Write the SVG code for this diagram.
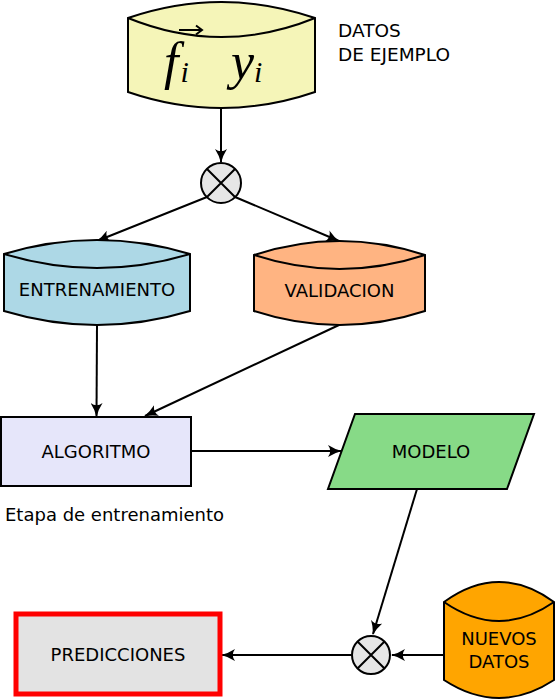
<svg xmlns="http://www.w3.org/2000/svg" width="556" height="700" viewBox="0 0 556 700">
<style>
.s{stroke:#000;stroke-width:2}
.t{font-family:"DejaVu Sans",sans-serif;font-size:18px;fill:#000;text-anchor:middle}
.c{stroke:#000;stroke-width:2;fill:none}
.m{font-family:"Liberation Serif",serif;font-style:italic;fill:#000}
</style>
<defs>
<marker id="ah" viewBox="0 0 14 12" refX="13" refY="6" markerWidth="14" markerHeight="12" markerUnits="userSpaceOnUse" orient="auto">
<path d="M0,0 Q7,4.5 14,6 Q7,7.5 0,12 Q4.5,6 0,0 Z" fill="#000"/>
</marker>
</defs>
<rect width="556" height="700" fill="#fff"/>
<g id="connectors" class="c">
<line x1="221" y1="108" x2="221" y2="162" marker-end="url(#ah)"/>
<line x1="207" y1="197" x2="97" y2="241" marker-end="url(#ah)"/>
<line x1="235" y1="197" x2="339" y2="241" marker-end="url(#ah)"/>
<line x1="97" y1="325" x2="96.5" y2="416" marker-end="url(#ah)"/>
<line x1="339" y1="325" x2="145" y2="416" marker-end="url(#ah)"/>
<line x1="191" y1="451" x2="341" y2="451" marker-end="url(#ah)"/>
<line x1="417" y1="489" x2="373" y2="634" marker-end="url(#ah)"/>
<line x1="444" y1="655" x2="392" y2="655" marker-end="url(#ah)"/>
<line x1="352" y1="655" x2="222" y2="655" marker-end="url(#ah)"/>
</g>
<g id="datos">
<path class="s" fill="#f5f5b8" d="M128,18 Q221.5,-14 315,18 L315,92 Q221.5,124 128,92 Z"/>
<path class="c" d="M128,18 Q221.5,56 315,18"/>
<text class="m" x="164" y="79" font-size="52">f<tspan font-size="30" dx="2" dy="3">i</tspan></text>
<text class="m" x="231" y="79" font-size="52">y<tspan font-size="30" dy="3">i</tspan></text>
<path class="c" stroke-width="1.6" d="M179,30 L202,30 M196,25.5 L202,30 L196,34.5"/>
<text x="338" y="37" font-family="DejaVu Sans,sans-serif" font-size="18.5">DATOS</text>
<text x="338" y="61" font-family="DejaVu Sans,sans-serif" font-size="18.5">DE EJEMPLO</text>
</g>
<g id="mix1">
<circle class="s" cx="221" cy="183" r="20" fill="#e6e6e6"/>
<path class="c" d="M207,169 L235,197 M235,169 L207,197"/>
</g>
<g id="entrenamiento">
<path class="s" fill="#add8e6" d="M4,254 Q97,226 190,254 L190,311 Q97,339 4,311 Z"/>
<path class="c" d="M4,254 Q97,282 190,254"/>
<text class="t" x="97" y="296">ENTRENAMIENTO</text>
</g>
<g id="validacion">
<path class="s" fill="#ffb482" d="M254,255 Q339.5,227 425,255 L425,311 Q339.5,339 254,311 Z"/>
<path class="c" d="M254,255 Q339.5,283 425,255"/>
<text class="t" x="339.5" y="297">VALIDACION</text>
</g>
<g id="algoritmo">
<rect class="s" x="1" y="417" width="190" height="69" fill="#e6e6fa"/>
<text class="t" x="96" y="458">ALGORITMO</text>
</g>
<g id="modelo">
<path class="s" fill="#87da87" d="M355,414 L534,414 L507,489 L328,489 Z"/>
<text class="t" x="431" y="458">MODELO</text>
</g>
<text x="5" y="521" font-family="DejaVu Sans,sans-serif" font-size="18">Etapa de entrenamiento</text>
<g id="mix2">
<circle class="s" cx="371" cy="655" r="19" fill="#e6e6e6"/>
<path class="c" d="M357.5,641.5 L384.5,668.5 M384.5,641.5 L357.5,668.5"/>
</g>
<g id="nuevos">
<path class="s" fill="#ffa500" d="M444,602 Q499,562 554,602 L554,680 Q499,716 444,680 Z"/>
<path class="c" d="M444,602 Q499,640 554,602"/>
<text class="t" x="499" y="645">NUEVOS</text>
<text class="t" x="499" y="668">DATOS</text>
</g>
<g id="predicciones">
<rect x="16" y="614" width="204" height="80" fill="#e3e3e3" stroke="#ff0000" stroke-width="5"/>
<text class="t" x="118" y="661">PREDICCIONES</text>
</g>
</svg>
